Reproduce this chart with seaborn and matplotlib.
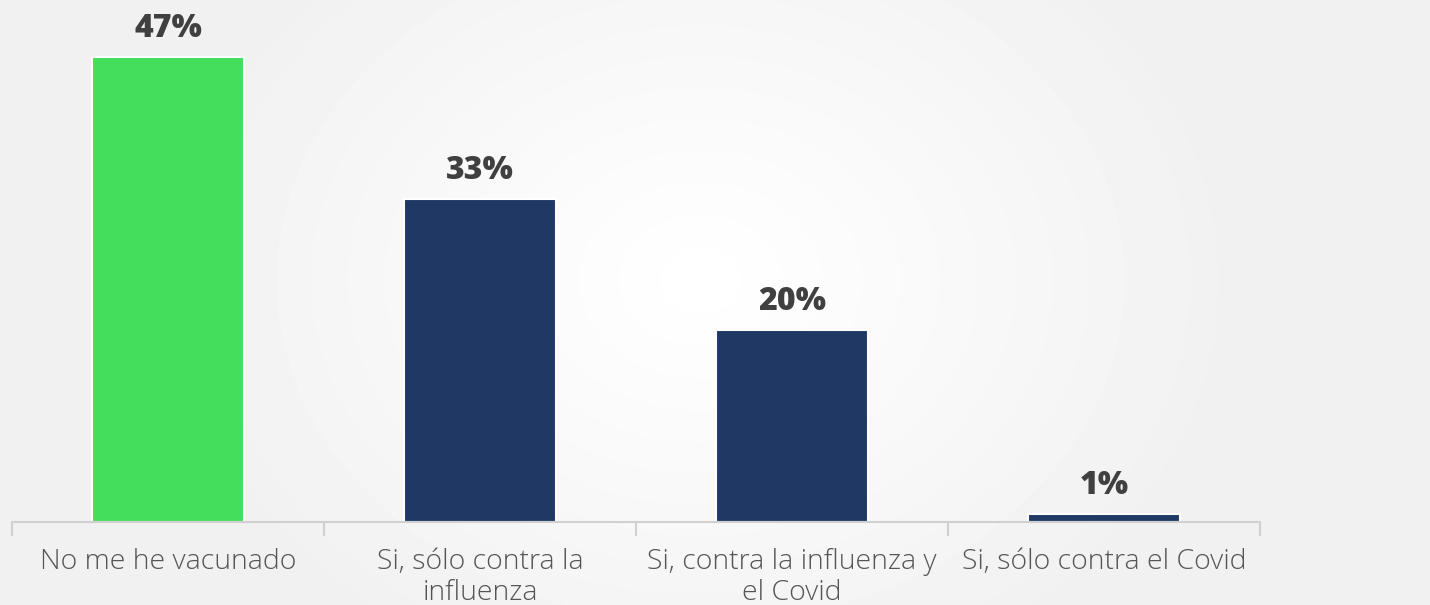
import numpy as np
import pandas as pd
import matplotlib
matplotlib.use("Agg")
import matplotlib.pyplot as plt
import seaborn as sns

categories = ["No me he vacunado", "Si, sólo contra la\ninfluenza",
              "Si, contra la influenza y\nel Covid", "Si, sólo contra el Covid"]
values = [47.2, 32.8, 19.5, 0.8]
labels = ["47%", "33%", "20%", "1%"]
colors = ["#44DD5C", "#203864", "#203864", "#203864"]

sns.set_theme(style="white")
plt.rcParams['font.family'] = ['Open Sans', 'DejaVu Sans']

W, H = 1430, 605
fig = plt.figure(figsize=(W / 100, H / 100), dpi=100)
fig.patch.set_facecolor("#f2f2f2")

# background radial glow
bg = fig.add_axes([0, 0, 1, 1], zorder=-5)
yy, xx = np.mgrid[0:H, 0:W]
r = np.sqrt(((xx - 700) / 520.0) ** 2 + ((yy - 280) / 420.0) ** 2)
glow = np.clip(1 - r, 0, 1) ** 0.9
img = 0.945 + (1.0 - 0.945) * glow
bg.imshow(img, cmap="gray", vmin=0, vmax=1, aspect="auto", interpolation="bilinear")
bg.axis("off")

left, right, base = 12, 1260, 522
ymax = 50.0
px_per_unit = 9.85
top = base - ymax * px_per_unit
ax = fig.add_axes([left / W, (H - base) / H, (right - left) / W, (base - top) / H])
ax.patch.set_alpha(0)

df = pd.DataFrame({"cat": categories, "val": values})
sns.barplot(data=df, x="cat", y="val", hue="cat", palette=colors, legend=False,
            width=0.485, ax=ax, edgecolor="white", linewidth=1.5, saturation=1)

ax.set_xlim(-0.5, len(categories) - 0.5)
ax.set_ylim(0, ymax)
for i, (v, lab) in enumerate(zip(values, labels)):
    ax.text(i, v + 2.0, lab, ha="center", va="baseline", fontsize=23,
            fontweight="heavy", color="#404040")

for s in ["top", "right", "left"]:
    ax.spines[s].set_visible(False)
ax.spines["bottom"].set_color("#d0d0d0")
ax.spines["bottom"].set_linewidth(1.5)
ax.set_yticks([])
ax.set_xlabel("")
ax.set_ylabel("")
ax.set_xticks(range(len(categories)))
ax.set_xticklabels(categories, fontsize=20.5, color="#555555", linespacing=1.12,
                   fontweight="light")
ax.tick_params(axis="x", which="major", bottom=True, length=0, pad=19)
ax.set_xticks(np.arange(-0.5, len(categories)), minor=True)
ax.tick_params(axis="x", which="minor", bottom=True, length=10, width=1.5,
               color="#d0d0d0")

fig.savefig("out.png", dpi=100, facecolor=fig.get_facecolor())
